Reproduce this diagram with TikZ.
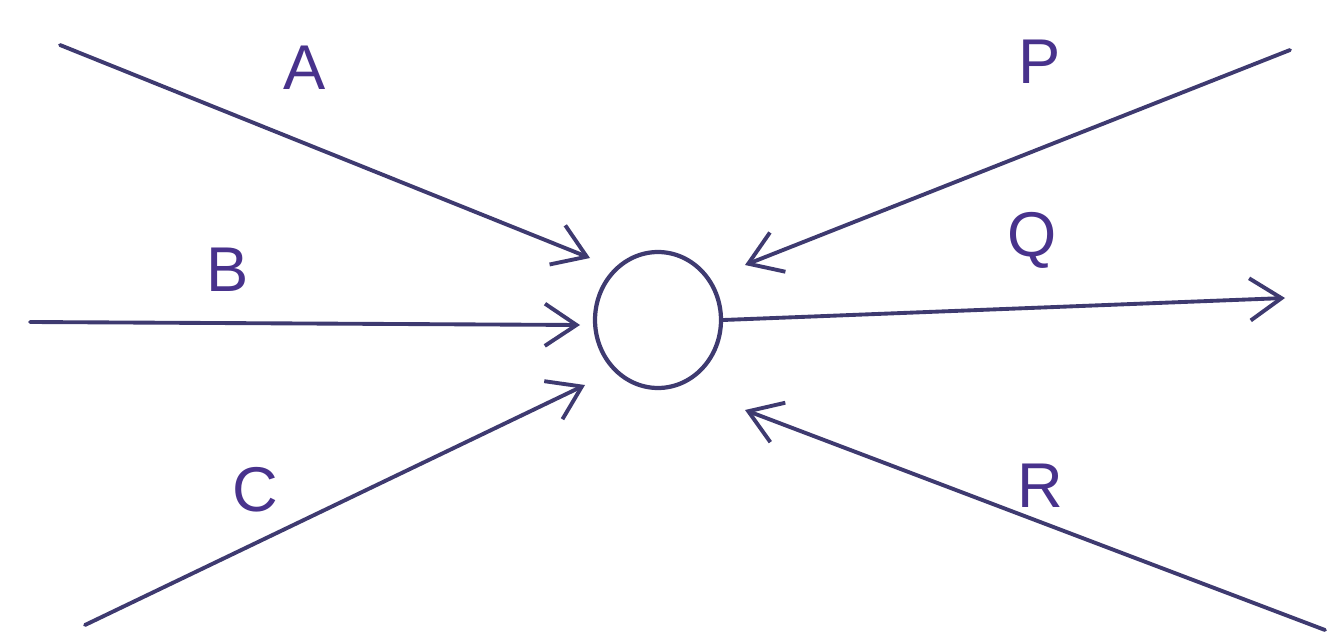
\documentclass[tikz,border=0pt]{standalone}
\usepackage{fontspec}
\setmainfont{Liberation Sans}
\usetikzlibrary{arrows.meta,shapes.geometric}
\definecolor{inkline}{RGB}{62,58,112}
\definecolor{inklabel}{RGB}{72,50,140}
\tikzset{
	flow/.style={line width=2.2pt,draw=inkline,line cap=round,-{Straight Barb[length=18pt,width=24pt,line width=2.2pt]}},
	tag/.style={text=inklabel,font=\fontsize{36}{38}\selectfont,inner sep=0pt}
}
\begin{document}
\begin{tikzpicture}[x=0.02cm,y=-0.02cm,line join=round]
	\useasboundingbox[fill=white] (0,0) rectangle (1338,642);
	% hub
	\node[ellipse,draw=inkline,line width=2.4pt,minimum width=2.52cm,minimum height=2.72cm,inner sep=0pt] (hub) at (658,320) {};
	% free ends
	\coordinate (a0) at (60,45);     \coordinate (a1) at (590,258);
	\coordinate (b0) at (30,322);    \coordinate (b1) at (580,325);
	\coordinate (c0) at (85,625);    \coordinate (c1) at (585,385);
	\coordinate (p0) at (1290,50);   \coordinate (p1) at (745,265);
	\coordinate (r0) at (1325,630);  \coordinate (r1) at (745,410);
	\coordinate (q1) at (1285,298);
	% inflows
	\draw[flow] (a0) -- (a1);
	\draw[flow] (b0) -- (b1);
	\draw[flow] (c0) -- (c1);
	\draw[flow] (p0) -- (p1);
	\draw[flow] (r0) -- (r1);
	% outflow
	\draw[flow] (hub.east) -- (q1);
	% labels
	\node[tag] (la) at (305,68) {A};
	\node[tag] (lb) at (228,270) {B};
	\node[tag] (lc) at (255,490) {C};
	\node[tag] (lp) at (1040,62) {P};
	\node[tag] (lq) at (1032,240) {Q};
	\node[tag] (lr) at (1040,486) {R};
\end{tikzpicture}
\end{document}
